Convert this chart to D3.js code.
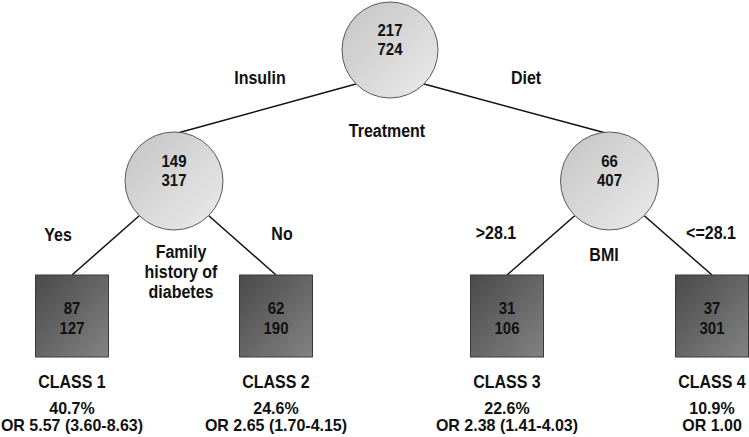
<!DOCTYPE html>
<html>
<head>
<meta charset="utf-8">
<script src="https://cdn.jsdelivr.net/npm/d3@7/dist/d3.min.js"></script>
<style>
  html, body { margin: 0; padding: 0; background: #ffffff; }
  svg { display: block; }
  text { font-family: "Liberation Sans", Arial, sans-serif; font-weight: bold; fill: #111; }
</style>
</head>
<body>
<svg id="chart" width="749" height="437"></svg>
<script>
// ---------- data ----------
const rootCounts = [217, 724];
const nodeCounts = [[149, 317], [66, 407]];
const leafCounts = [[87, 127], [62, 190], [31, 106], [37, 301]];
const splitVariables = ["Treatment", "Family history of diabetes", "BMI"];
const branchLabels = [["Insulin", "Diet"], ["Yes", "No"], [">28.1", "<=28.1"]];
const classNames = ["CLASS 1", "CLASS 2", "CLASS 3", "CLASS 4"];
const classPercents = ["40.7%", "24.6%", "22.6%", "10.9%"];
const oddsRatios = ["OR 5.57 (3.60-8.63)", "OR 2.65 (1.70-4.15)", "OR 2.38 (1.41-4.03)", "OR 1.00"];

// ---------- hierarchy ----------
const treeData = {
  counts: rootCounts, split: splitVariables[0], branches: branchLabels[0],
  children: nodeCounts.map((c, i) => ({
    counts: c, split: splitVariables[i + 1], branches: branchLabels[i + 1],
    children: [0, 1].map(j => {
      const k = i * 2 + j;
      return { counts: leafCounts[k], cls: classNames[k], pct: classPercents[k], or: oddsRatios[k] };
    })
  }))
};
const root = d3.hierarchy(treeData);

// ---------- layout ----------
const leafX = d3.scaleOrdinal().domain(classNames).range([72, 276, 507, 712]);
const depthY = d3.scaleOrdinal().domain([0, 1, 2]).range([50, 181, 316]);
root.leaves().forEach(l => { l.x = leafX(l.data.cls); });
root.eachAfter(n => { if (n.children) n.x = d3.mean(n.children, c => c.x); });
root.each(n => { n.y = depthY(n.depth); });
root.x = 390;

const R = [48, 49];
const boxW = 73, boxH = 82;
const VS = 1.1; // vertical stretch of lettering

const svg = d3.select("#chart");
const defs = svg.append("defs");
const gCircle = defs.append("linearGradient").attr("id", "gc")
  .attr("x1", "0").attr("y1", "0").attr("x2", "1").attr("y2", "1");
gCircle.append("stop").attr("offset", "0").attr("stop-color", "#c4c4c4");
gCircle.append("stop").attr("offset", "1").attr("stop-color", "#ebebeb");
const gBox = defs.append("linearGradient").attr("id", "gb")
  .attr("x1", "0").attr("y1", "0").attr("x2", "1").attr("y2", "1");
gBox.append("stop").attr("offset", "0").attr("stop-color", "#4a4a4a");
gBox.append("stop").attr("offset", "1").attr("stop-color", "#828282");

function label(parent, x, y, lines, size, step, vs) {
  const s = vs || VS;
  const t = parent.append("text").attr("text-anchor", "middle")
    .style("font-size", size + "px")
    .attr("transform", `translate(${x},${y}) scale(1,${s})`);
  lines.forEach((str, k) => {
    t.append("tspan").attr("x", 0).attr("y", k * step / s).text(str);
  });
  return t;
}

// links
svg.append("g").selectAll("line").data(root.links()).join("line")
  .attr("x1", d => d.source.x + (d.target.x < d.source.x ? -1 : 1) * R[d.source.depth] * 0.71)
  .attr("y1", d => d.source.y + R[d.source.depth] * 0.71)
  .attr("x2", d => d.target.x)
  .attr("y2", d => d.target.children ? d.target.y - R[1] + 2 : d.target.y - boxH / 2)
  .attr("stroke", "#111").attr("stroke-width", 1.5);

// internal nodes
const inner = root.descendants().filter(n => n.children);
svg.append("g").selectAll("circle").data(inner).join("circle")
  .attr("cx", d => d.x).attr("cy", d => d.y).attr("r", d => R[d.depth])
  .attr("fill", "url(#gc)").attr("stroke", "#5a5a5a").attr("stroke-width", 1);

// leaves
const leaves = root.leaves();
svg.append("g").selectAll("rect").data(leaves).join("rect")
  .attr("x", d => d.x - boxW / 2).attr("y", d => d.y - boxH / 2)
  .attr("width", boxW).attr("height", boxH)
  .attr("fill", "url(#gb)").attr("stroke", "#3a3a3a").attr("stroke-width", 1);

// all texts on top
const gt = svg.append("g");
inner.forEach(n => label(gt, n.x, n.y - 14, n.data.counts.map(String), 15, 19.5));
leaves.forEach(n => label(gt, n.x, n.y - 2, n.data.counts.map(String), 15, 20));

// class labels
leaves.forEach(n => {
  label(gt, n.x, 388, [n.data.cls], 16, 0);
  label(gt, n.x, 414, [n.data.pct], 16, 0, 1.05);
  label(gt, n.x, 431, [n.data.or], 16, 0, 1.05);
});

// branch labels
const branchPos = [
  [[260, 84], [526, 84]],
  [[58, 241], [282, 240]],
  [[496, 239], [711, 239]]
];
inner.forEach((n, i) => {
  n.data.branches.forEach((b, j) => label(gt, branchPos[i][j][0], branchPos[i][j][1], [b], 16, 0));
});

// split variable labels
const splitPos = [[387, 137], [181, 258], [604, 261]];
const splitLines = [["Treatment"], ["Family", "history of", "diabetes"], ["BMI"]];
inner.forEach((n, i) => label(gt, splitPos[i][0], splitPos[i][1], splitLines[i], 16, 20));
</script>
</body>
</html>
